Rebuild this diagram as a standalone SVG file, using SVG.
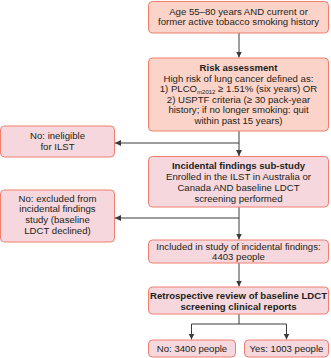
<svg xmlns="http://www.w3.org/2000/svg" width="331" height="358" viewBox="0 0 331 358">
<style>
.b1{fill:#fcd3c8;stroke:#ef7e6c;stroke-width:1}
.b2{fill:#f5d7dd;stroke:#ef7e6c;stroke-width:1}
text{font-family:"Liberation Sans",Arial,sans-serif;font-size:9.6px;fill:#231f20;text-anchor:middle}
.bold{font-weight:bold}
.ln{fill:none;stroke:#3a3a3a;stroke-width:1}
</style>
<defs>
<marker id="ah" viewBox="0 0 6 6" refX="6" refY="3" markerWidth="6" markerHeight="6" orient="auto" markerUnits="userSpaceOnUse">
<path d="M0,0 L6,3 L0,6 z" fill="#3a3a3a"/>
</marker>
</defs>
<g id="connectors">
<line class="ln" x1="239" y1="33" x2="239" y2="57.5" marker-end="url(#ah)"/>
<line class="ln" x1="239" y1="131" x2="239" y2="156" marker-end="url(#ah)"/>
<line class="ln" x1="239" y1="143" x2="115" y2="143" marker-end="url(#ah)"/>
<line class="ln" x1="239" y1="207" x2="239" y2="239.5" marker-end="url(#ah)"/>
<line class="ln" x1="239" y1="218" x2="115" y2="218" marker-end="url(#ah)"/>
<line class="ln" x1="239" y1="263" x2="239" y2="286.5" marker-end="url(#ah)"/>
<line class="ln" x1="239" y1="314" x2="239" y2="324"/>
<line class="ln" x1="191.5" y1="324" x2="286.5" y2="324"/>
<line class="ln" x1="191.5" y1="324" x2="191.5" y2="339.5" marker-end="url(#ah)"/>
<line class="ln" x1="286.5" y1="324" x2="286.5" y2="339.5" marker-end="url(#ah)"/>
</g>
<g id="n1">
<rect class="b1" x="148.5" y="1.5" width="180" height="31.5" rx="4"/>
<text x="238.5" y="14.5">Age 55–80 years AND current or</text>
<text x="238.5" y="25">former active tobacco smoking history</text>
</g>
<g id="n2">
<rect class="b1" x="148.5" y="58" width="180" height="73" rx="4"/>
<text x="238.5" y="71" class="bold">Risk assessment</text>
<text x="238.5" y="81.5">High risk of lung cancer defined as:</text>
<text x="238.5" y="92">1) PLCO<tspan font-size="6" dy="1.5">m2012</tspan><tspan dy="-1.5"> ≥ 1.51% (six years) OR</tspan></text>
<text x="238.5" y="102.5">2) USPTF criteria (≥ 30 pack-year</text>
<text x="238.5" y="113">history; if no longer smoking: quit</text>
<text x="238.5" y="123.5">within past 15 years)</text>
</g>
<g id="n3">
<rect class="b2" x="0.5" y="126" width="114" height="31" rx="4"/>
<text x="57.5" y="139">No: ineligible</text>
<text x="57.5" y="150">for ILST</text>
</g>
<g id="n4">
<rect class="b2" x="148.5" y="156.5" width="180" height="50.5" rx="4"/>
<text x="238.5" y="169" class="bold">Incidental findings sub-study</text>
<text x="238.5" y="180">Enrolled in the ILST in Australia or</text>
<text x="238.5" y="190.5">Canada AND baseline LDCT</text>
<text x="238.5" y="201.5">screening performed</text>
</g>
<g id="n5">
<rect class="b2" x="0.5" y="190" width="114" height="52" rx="4"/>
<text x="57.5" y="201.5">No: excluded from</text>
<text x="57.5" y="212">incidental findings</text>
<text x="57.5" y="222.5">study (baseline</text>
<text x="57.5" y="233.5">LDCT declined)</text>
</g>
<g id="n6">
<rect class="b2" x="148.5" y="240" width="180" height="23" rx="4"/>
<text x="238.5" y="250">Included in study of incidental findings:</text>
<text x="238.5" y="260">4403 people</text>
</g>
<g id="n7">
<rect class="b2" x="148.5" y="287" width="180" height="27" rx="4"/>
<text x="238.5" y="298.5" class="bold">Retrospective review of baseline LDCT</text>
<text x="238.5" y="309.5" class="bold">screening clinical reports</text>
</g>
<g id="n8">
<rect class="b2" x="148.5" y="340" width="87" height="17" rx="4"/>
<text x="192" y="351.5">No: 3400 people</text>
</g>
<g id="n9">
<rect class="b2" x="244.5" y="340" width="84" height="17" rx="4"/>
<text x="286.5" y="351.5">Yes: 1003 people</text>
</g>
</svg>
